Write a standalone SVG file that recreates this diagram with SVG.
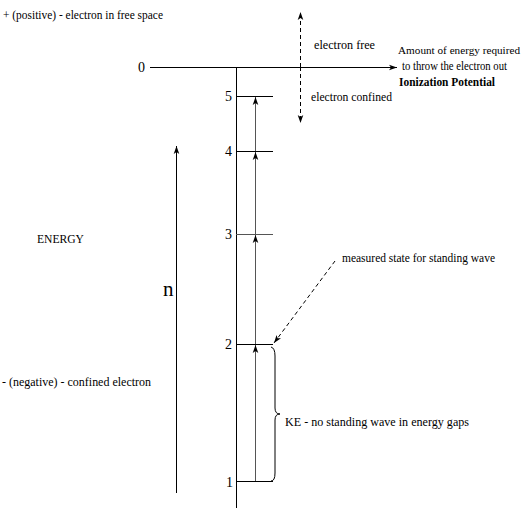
<svg xmlns="http://www.w3.org/2000/svg" width="526" height="526" viewBox="0 0 526 526" font-family="Liberation Serif, Times New Roman, DejaVu Serif, serif">
<style>
text{font-size:12px;fill:#000}
.ln{stroke:#000;stroke-width:1;fill:none}
.g{stroke:#555}
.dash{stroke:#000;stroke-width:1;stroke-dasharray:4,3;fill:none}
.lbl{font-size:14px}
</style>
<defs>
<marker id="ah" viewBox="0 0 10 10" refX="10" refY="5" markerWidth="8" markerHeight="8" orient="auto" markerUnits="userSpaceOnUse">
<path d="M0,1.5 L10,5 L0,8.5 L2.5,5 Z" fill="#000"/>
</marker>
</defs>
<rect width="526" height="526" fill="#fff"/>
<g id="connectors">
<line class="ln" x1="150" y1="67.5" x2="397" y2="67.5" marker-end="url(#ah)"/>
<line class="ln" x1="236.5" y1="67" x2="236.5" y2="508"/>
<line class="ln" x1="236" y1="96.5" x2="273" y2="96.5"/>
<line class="ln" x1="236" y1="151.5" x2="273" y2="151.5"/>
<line class="ln g" x1="236" y1="234.5" x2="273" y2="234.5"/>
<line class="ln" x1="236" y1="344.5" x2="273" y2="344.5"/>
<line class="ln" x1="236" y1="481.5" x2="273" y2="481.5"/>
<line class="ln g" x1="255.5" y1="481" x2="255.5" y2="345" marker-end="url(#ah)"/>
<line class="ln g" x1="255.5" y1="344" x2="255.5" y2="235" marker-end="url(#ah)"/>
<line class="ln g" x1="255.5" y1="234" x2="255.5" y2="152" marker-end="url(#ah)"/>
<line class="ln g" x1="255.5" y1="151" x2="255.5" y2="97" marker-end="url(#ah)"/>
<line class="dash" x1="300.5" y1="67" x2="300.5" y2="12" marker-end="url(#ah)"/>
<line class="dash" x1="300.5" y1="67" x2="300.5" y2="123" marker-end="url(#ah)"/>
<line class="ln" x1="176.5" y1="493" x2="176.5" y2="146" marker-end="url(#ah)"/>
<line class="dash" x1="335" y1="261" x2="274" y2="343" stroke-width="0.8" marker-end="url(#ah)"/>
<path class="ln" d="M271,347 Q275,348 275,356 L275,408 Q275,414 280,414 Q275,414 275,420 L275,473 Q275,481 271,481"/>
</g>
<g id="axis-labels">
<text x="3" y="19" textLength="160" lengthAdjust="spacingAndGlyphs">+ (positive) - electron in free space</text>
<text x="138" y="72" class="lbl">0</text>
<text x="225" y="101" class="lbl">5</text>
<text x="225" y="156" class="lbl">4</text>
<text x="225" y="239" class="lbl">3</text>
<text x="225" y="349" class="lbl">2</text>
<text x="226" y="487" class="lbl">1</text>
<text x="37" y="243" textLength="47" lengthAdjust="spacingAndGlyphs">ENERGY</text>
<text x="163" y="296" style="font-size:21px">n</text>
<text x="2" y="386" textLength="149" lengthAdjust="spacingAndGlyphs">- (negative) - confined electron</text>
</g>
<g id="node-free">
<text x="314" y="49" textLength="61" lengthAdjust="spacingAndGlyphs">electron free</text>
<text x="311" y="101" textLength="81" lengthAdjust="spacingAndGlyphs">electron confined</text>
</g>
<g id="node-ionization">
<text x="398" y="54" style="font-size:11px" textLength="122" lengthAdjust="spacingAndGlyphs">Amount of energy required</text>
<text x="402" y="70" textLength="105" lengthAdjust="spacingAndGlyphs">to throw the electron out</text>
<text x="399" y="86" font-weight="bold" textLength="96" lengthAdjust="spacingAndGlyphs">Ionization Potential</text>
</g>
<g id="node-measured">
<text x="342" y="262" textLength="153" lengthAdjust="spacingAndGlyphs">measured state for standing wave</text>
</g>
<g id="node-ke">
<text x="285" y="426" textLength="184" lengthAdjust="spacingAndGlyphs">KE - no standing wave in energy gaps</text>
</g>
</svg>
